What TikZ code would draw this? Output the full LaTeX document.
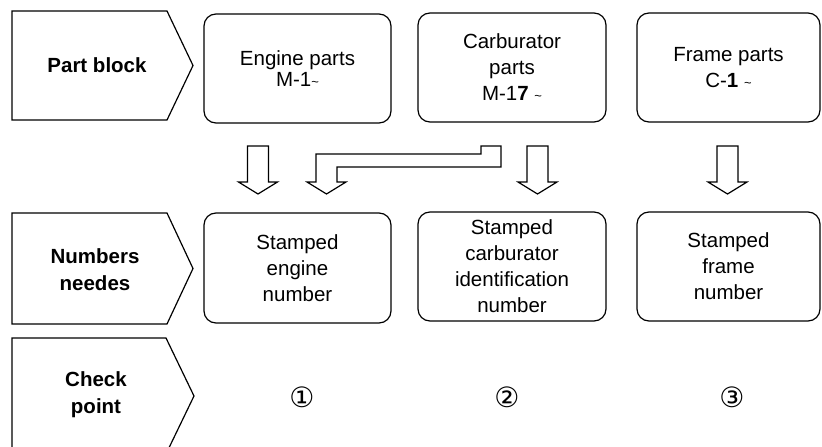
\documentclass[tikz,border=0pt]{standalone}
\usepackage{fontspec}
\setmainfont{Liberation Sans}
\newfontfamily\symfont{DejaVu Sans}
\usetikzlibrary{positioning}

\newcommand\sml{{\fontsize{13}{13}\selectfont\textasciitilde}}

\begin{document}
\begin{tikzpicture}[x=1pt, y=-1pt,
   line width=1.2pt, line join=miter,
   every node/.append style = {font=\fontsize{20.5}{26}\selectfont, align=center},
     head/.style = {inner sep=0pt, font=\fontsize{20.5}{27}\selectfont\bfseries},
      box/.style = {rectangle, rounded corners=12pt, draw, inner sep=0pt,
                    minimum width=187, minimum height=109},
      num/.style = {font=\symfont\fontsize{28}{28}\selectfont},
                    ]
    \useasboundingbox (0,0) rectangle (822,447);
    \clip (0,0) rectangle (822,447);
    % left column
    \draw (12,11) -- (167,11) -- (193,65.5) -- (167,120) -- (12,120) -- cycle;
    \node[head] (pb) at (97,65.5) {Part block};
    \draw (12,213) -- (167,213) -- (193,268.5) -- (167,324) -- (12,324) -- cycle;
    \node[head] (nn) at (95,270) {Numbers\\ needes};
    \draw (12,338) -- (166,338) -- (194,396) -- (166,454) -- (12,454) -- cycle;
    \node[head] (cp) at (96,395) {Check\\ point};
    % parts
    \node[box] (engine) at (297.5,68.5) {Engine parts\\[-5pt] M-1\sml};
    \node[box, minimum width=188] (carb) at (512,67.5) {Carburator\\ parts\\ M-1\textbf{7} \sml};
    \node[box, minimum width=183] (frame) at (728.5,67.5) {Frame parts\\ C-\textbf{1} \sml};
    % numbers
    \node[box, minimum height=110] (eno) at (297.5,268)
        {\fontsize{20.5}{27}\selectfont Stamped\\ engine\\ number};
    \node[box, minimum width=188] (cno) at (512,266.5)
        {\fontsize{20.5}{27}\selectfont Stamped\\ carburator\\ identification\\ number};
    \node[box, minimum width=183] (fno) at (728.5,266.5)
        {\fontsize{20.5}{26}\selectfont Stamped\\ frame\\ number};
    % check points
    \node[num] (c1) at (302,397) {①};
    \node[num] (c2) at (507,397) {②};
    \node[num] (c3) at (732,397) {③};
    %% block arrows
    \foreach \ax in {258, 537.5, 727.5}
        \draw (\ax-10.5,146) -- (\ax+10.5,146) -- (\ax+10.5,182) -- (\ax+19.5,182)
              -- (\ax,194) -- (\ax-19.5,182) -- (\ax-10.5,182) -- cycle;
    \draw (316,182) -- (316,154) -- (481,154) -- (481,146) -- (501,146)
          -- (501,167) -- (337,167) -- (337,182) -- (346,182)
          -- (326.5,194) -- (307,182) -- cycle;
\end{tikzpicture}
\end{document}
